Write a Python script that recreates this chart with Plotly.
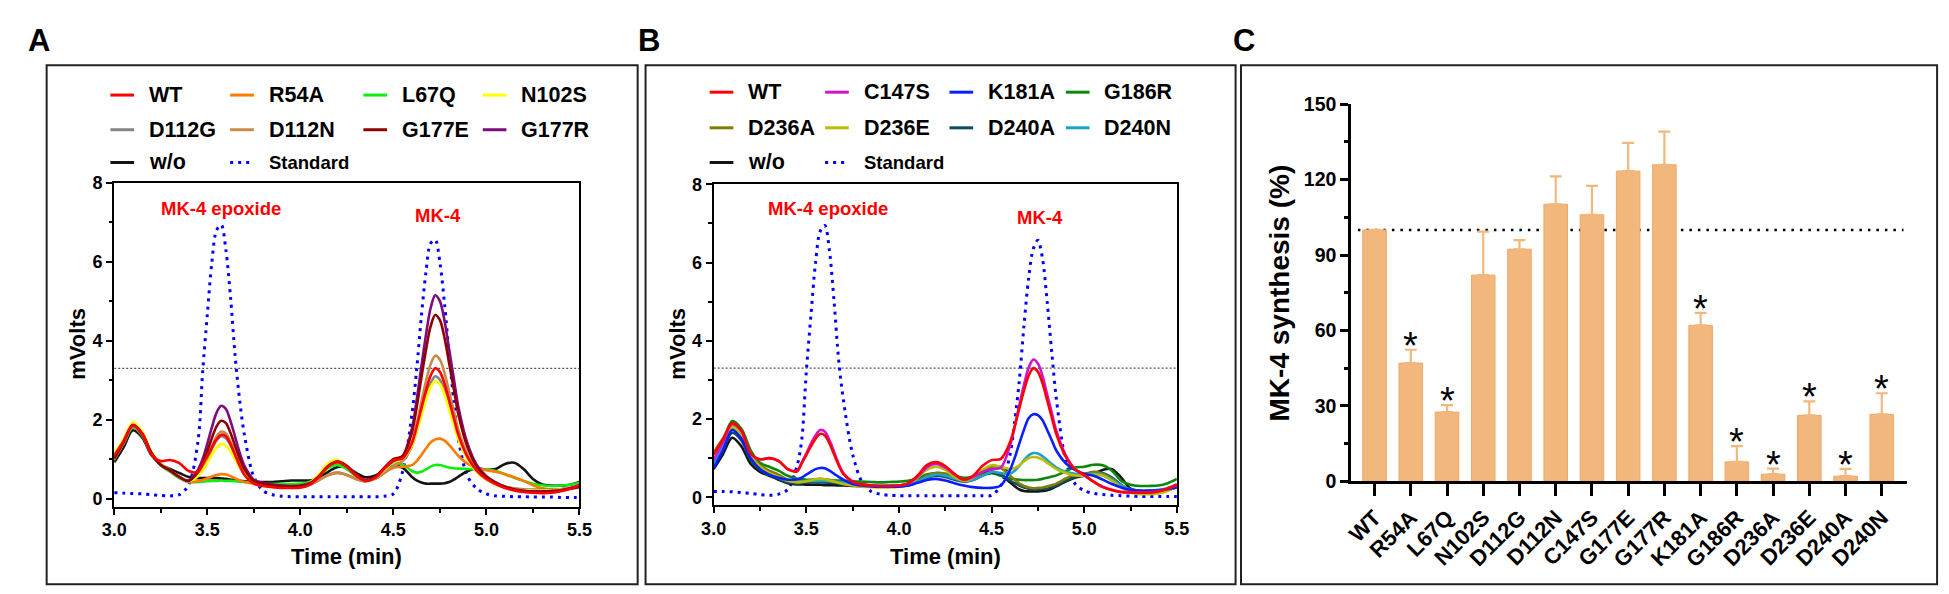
import plotly.graph_objects as go

W, H = 1949, 594
FONT = 'Liberation Sans, Arial, sans-serif'

# retention time grid (min), denser around the two peaks
TIME = [3.00, 3.05, 3.10, 3.15, 3.20, 3.25, 3.30, 3.35, 3.40, 3.45,
        3.475, 3.50, 3.525, 3.55, 3.575, 3.60, 3.625, 3.65, 3.675, 3.70,
        3.75, 3.80, 3.85, 3.90, 3.95, 4.00, 4.05, 4.10, 4.15, 4.20,
        4.25, 4.30, 4.35, 4.40, 4.45, 4.50, 4.55, 4.60, 4.625, 4.65,
        4.675, 4.70, 4.725, 4.75, 4.775, 4.80, 4.825, 4.85, 4.90, 4.95,
        5.00, 5.05, 5.10, 5.15, 5.20, 5.25, 5.30, 5.35, 5.40, 5.45, 5.50]

# ---- panel A chromatograms (mVolts) ----
A_WT = [1.10, 1.45, 1.86, 1.65, 1.12, 0.95, 0.98, 0.90, 0.70, 0.68,
        0.87, 1.08, 1.30, 1.50, 1.62, 1.58, 1.38, 1.10, 0.82, 0.60,
        0.38, 0.32, 0.29, 0.27, 0.27, 0.28, 0.35, 0.55, 0.82, 0.92,
        0.80, 0.58, 0.45, 0.52, 0.75, 0.97, 1.02, 1.41, 1.81, 2.28,
        2.73, 3.11, 3.30, 3.21, 2.91, 2.48, 2.04, 1.61, 1.04, 0.70,
        0.50, 0.37, 0.27, 0.21, 0.17, 0.15, 0.14, 0.15, 0.19, 0.25, 0.35]
A_R54A = [1.00, 1.40, 1.83, 1.62, 1.15, 0.85, 0.70, 0.54, 0.43, 0.44,
          0.47, 0.51, 0.56, 0.60, 0.62, 0.61, 0.57, 0.51, 0.46, 0.42,
          0.38, 0.34, 0.32, 0.31, 0.30, 0.31, 0.36, 0.47, 0.60, 0.65,
          0.60, 0.50, 0.44, 0.50, 0.65, 0.78, 0.81, 0.85, 0.95, 1.10,
          1.27, 1.42, 1.50, 1.52, 1.47, 1.36, 1.22, 1.08, 0.88, 0.77,
          0.72, 0.68, 0.62, 0.54, 0.45, 0.34, 0.26, 0.23, 0.22, 0.25, 0.30]
A_L67Q = [1.05, 1.40, 1.80, 1.60, 1.13, 0.84, 0.68, 0.52, 0.42, 0.42,
          0.43, 0.44, 0.45, 0.45, 0.46, 0.45, 0.45, 0.44, 0.43, 0.42,
          0.40, 0.38, 0.37, 0.37, 0.37, 0.38, 0.42, 0.56, 0.78, 0.85,
          0.75, 0.57, 0.46, 0.52, 0.72, 0.90, 0.86, 0.70, 0.66, 0.68,
          0.74, 0.81, 0.85, 0.85, 0.82, 0.79, 0.77, 0.76, 0.75, 0.74,
          0.73, 0.70, 0.62, 0.53, 0.45, 0.38, 0.34, 0.32, 0.33, 0.35, 0.40]
A_N102S = [1.15, 1.50, 1.93, 1.70, 1.18, 0.88, 0.72, 0.55, 0.45, 0.57,
           0.71, 0.90, 1.11, 1.29, 1.38, 1.34, 1.19, 0.99, 0.78, 0.62,
           0.38, 0.33, 0.31, 0.30, 0.30, 0.31, 0.40, 0.62, 0.90, 0.98,
           0.84, 0.60, 0.46, 0.52, 0.72, 0.92, 1.01, 1.35, 1.69, 2.09,
           2.49, 2.82, 2.98, 2.90, 2.63, 2.25, 1.87, 1.49, 0.98, 0.67,
           0.49, 0.36, 0.29, 0.24, 0.21, 0.20, 0.20, 0.21, 0.23, 0.27, 0.32]
A_D112G = [1.00, 1.40, 1.83, 1.62, 1.15, 0.85, 0.70, 0.54, 0.43, 0.61,
           0.77, 1.00, 1.26, 1.48, 1.58, 1.53, 1.35, 1.10, 0.86, 0.66,
           0.40, 0.35, 0.32, 0.31, 0.30, 0.31, 0.36, 0.47, 0.60, 0.66,
           0.60, 0.50, 0.44, 0.50, 0.65, 0.82, 0.95, 1.33, 1.70, 2.14,
           2.57, 2.92, 3.10, 3.01, 2.74, 2.34, 1.94, 1.54, 1.01, 0.68,
           0.49, 0.37, 0.30, 0.26, 0.24, 0.23, 0.23, 0.23, 0.24, 0.26, 0.28]
A_D112N = [1.00, 1.42, 1.85, 1.63, 1.15, 0.85, 0.70, 0.54, 0.43, 0.62,
           0.80, 1.06, 1.34, 1.58, 1.70, 1.65, 1.44, 1.18, 0.91, 0.69,
           0.41, 0.35, 0.32, 0.31, 0.30, 0.31, 0.36, 0.47, 0.60, 0.66,
           0.60, 0.50, 0.44, 0.50, 0.65, 0.82, 0.97, 1.43, 1.89, 2.44,
           2.97, 3.40, 3.62, 3.52, 3.18, 2.70, 2.22, 1.73, 1.10, 0.72,
           0.51, 0.38, 0.30, 0.25, 0.22, 0.21, 0.21, 0.22, 0.24, 0.27, 0.30]
A_G177E = [1.02, 1.43, 1.86, 1.64, 1.16, 0.86, 0.71, 0.55, 0.45, 0.67,
           0.89, 1.20, 1.54, 1.83, 1.97, 1.91, 1.66, 1.33, 1.01, 0.75,
           0.44, 0.38, 0.34, 0.32, 0.31, 0.32, 0.38, 0.56, 0.82, 0.93,
           0.82, 0.60, 0.46, 0.54, 0.78, 1.00, 1.08, 1.68, 2.31, 3.05,
           3.76, 4.36, 4.65, 4.52, 4.07, 3.42, 2.77, 2.12, 1.28, 0.80,
           0.55, 0.40, 0.30, 0.24, 0.20, 0.18, 0.18, 0.19, 0.21, 0.25, 0.30]
A_G177R = [1.05, 1.45, 1.87, 1.65, 1.15, 0.85, 0.72, 0.55, 0.46, 0.73,
           1.00, 1.39, 1.81, 2.18, 2.35, 2.27, 1.96, 1.56, 1.15, 0.83,
           0.48, 0.40, 0.36, 0.33, 0.32, 0.33, 0.39, 0.57, 0.83, 0.94,
           0.83, 0.61, 0.47, 0.54, 0.76, 0.95, 1.08, 1.78, 2.49, 3.33,
           4.14, 4.82, 5.15, 5.00, 4.50, 3.77, 3.04, 2.31, 1.37, 0.84,
           0.57, 0.41, 0.30, 0.22, 0.19, 0.18, 0.18, 0.19, 0.22, 0.27, 0.33]
A_WO = [0.92, 1.30, 1.73, 1.55, 1.10, 0.87, 0.75, 0.65, 0.55, 0.52,
        0.52, 0.52, 0.52, 0.52, 0.51, 0.50, 0.48, 0.47, 0.45, 0.44,
        0.43, 0.42, 0.42, 0.44, 0.46, 0.46, 0.46, 0.52, 0.68, 0.80,
        0.80, 0.65, 0.54, 0.58, 0.70, 0.83, 0.78, 0.55, 0.46, 0.41,
        0.38, 0.38, 0.38, 0.38, 0.39, 0.42, 0.48, 0.56, 0.70, 0.77,
        0.73, 0.75, 0.88, 0.91, 0.75, 0.50, 0.36, 0.33, 0.33, 0.35, 0.42]
A_STD = [0.15, 0.14, 0.13, 0.12, 0.10, 0.08, 0.07, 0.10, 0.35, 1.45,
         3.20, 4.65, 6.00, 6.80, 6.93, 6.30, 5.10, 3.60, 2.45, 1.60,
         0.55, 0.20, 0.10, 0.06, 0.05, 0.05, 0.05, 0.05, 0.05, 0.05,
         0.05, 0.05, 0.05, 0.05, 0.06, 0.12, 0.69, 2.15, 3.26, 4.59,
         5.73, 6.46, 6.55, 5.98, 4.93, 3.65, 2.45, 1.48, 0.55, 0.25,
         0.12, 0.07, 0.06, 0.05, 0.05, 0.04, 0.04, 0.04, 0.03, 0.03, 0.03]

# ---- panel B chromatograms (mVolts) ----
B_WT = [1.10, 1.48, 1.90, 1.70, 1.12, 0.97, 1.00, 0.93, 0.72, 0.66,
        0.87, 1.08, 1.30, 1.50, 1.62, 1.58, 1.38, 1.10, 0.82, 0.60,
        0.40, 0.33, 0.30, 0.29, 0.29, 0.30, 0.36, 0.55, 0.82, 0.90,
        0.80, 0.60, 0.45, 0.55, 0.80, 0.95, 0.98, 1.41, 1.81, 2.28,
        2.73, 3.11, 3.30, 3.21, 2.91, 2.48, 2.04, 1.61, 1.04, 0.72,
        0.57, 0.40, 0.26, 0.18, 0.13, 0.12, 0.12, 0.12, 0.15, 0.22, 0.33]
B_C147S = [0.95, 1.40, 1.88, 1.70, 1.12, 0.97, 1.00, 0.93, 0.72, 0.68,
           0.88, 1.12, 1.37, 1.58, 1.72, 1.68, 1.46, 1.16, 0.85, 0.62,
           0.40, 0.33, 0.30, 0.29, 0.29, 0.30, 0.35, 0.52, 0.76, 0.85,
           0.76, 0.58, 0.45, 0.52, 0.65, 0.72, 0.76, 1.33, 1.82, 2.36,
           2.88, 3.31, 3.52, 3.42, 3.10, 2.63, 2.16, 1.69, 1.08, 0.72,
           0.56, 0.40, 0.27, 0.19, 0.14, 0.13, 0.13, 0.13, 0.16, 0.22, 0.32]
B_K181A = [0.75, 1.20, 1.72, 1.50, 1.00, 0.72, 0.58, 0.50, 0.45, 0.46,
           0.50, 0.58, 0.65, 0.72, 0.75, 0.74, 0.68, 0.60, 0.52, 0.45,
           0.34, 0.30, 0.28, 0.27, 0.27, 0.27, 0.30, 0.37, 0.44, 0.47,
           0.43, 0.36, 0.30, 0.26, 0.24, 0.24, 0.30, 0.70, 1.01, 1.38,
           1.73, 2.02, 2.12, 2.10, 1.97, 1.72, 1.46, 1.19, 0.87, 0.70,
           0.60, 0.55, 0.45, 0.34, 0.25, 0.19, 0.17, 0.17, 0.18, 0.21, 0.26]
B_G186R = [0.90, 1.40, 1.95, 1.75, 1.20, 0.88, 0.78, 0.68, 0.55, 0.47,
           0.46, 0.45, 0.45, 0.45, 0.45, 0.44, 0.44, 0.43, 0.43, 0.42,
           0.41, 0.40, 0.39, 0.38, 0.39, 0.40, 0.42, 0.48, 0.58, 0.62,
           0.60, 0.55, 0.50, 0.52, 0.58, 0.62, 0.55, 0.48, 0.46, 0.45,
           0.44, 0.44, 0.44, 0.45, 0.47, 0.50, 0.53, 0.56, 0.67, 0.76,
           0.78, 0.83, 0.82, 0.68, 0.42, 0.32, 0.29, 0.29, 0.30, 0.36, 0.47]
B_D236A = [1.15, 1.50, 1.85, 1.62, 1.10, 0.82, 0.68, 0.58, 0.45, 0.40,
           0.40, 0.42, 0.44, 0.46, 0.47, 0.46, 0.44, 0.41, 0.39, 0.37,
           0.33, 0.30, 0.28, 0.27, 0.27, 0.28, 0.32, 0.40, 0.55, 0.62,
           0.60, 0.50, 0.43, 0.48, 0.65, 0.78, 0.75, 0.55, 0.45, 0.35,
           0.29, 0.25, 0.23, 0.24, 0.25, 0.28, 0.31, 0.35, 0.48, 0.58,
           0.60, 0.65, 0.60, 0.48, 0.30, 0.15, 0.10, 0.10, 0.12, 0.18, 0.30]
B_D236E = [1.00, 1.40, 1.80, 1.58, 1.05, 0.78, 0.62, 0.52, 0.42, 0.38,
           0.39, 0.41, 0.43, 0.46, 0.47, 0.46, 0.43, 0.40, 0.37, 0.34,
           0.30, 0.27, 0.26, 0.25, 0.25, 0.27, 0.33, 0.50, 0.70, 0.78,
           0.70, 0.52, 0.42, 0.50, 0.70, 0.82, 0.78, 0.72, 0.75, 0.82,
           0.92, 1.00, 1.03, 1.02, 0.96, 0.88, 0.80, 0.72, 0.62, 0.56,
           0.55, 0.58, 0.55, 0.42, 0.25, 0.12, 0.08, 0.08, 0.10, 0.16, 0.27]
B_D240A = [0.80, 1.20, 1.65, 1.45, 0.95, 0.70, 0.56, 0.47, 0.38, 0.35,
           0.36, 0.37, 0.38, 0.38, 0.38, 0.38, 0.37, 0.36, 0.35, 0.33,
           0.31, 0.30, 0.29, 0.28, 0.29, 0.30, 0.33, 0.40, 0.50, 0.55,
           0.52, 0.45, 0.40, 0.44, 0.55, 0.62, 0.58, 0.42, 0.36, 0.30,
           0.25, 0.22, 0.20, 0.20, 0.21, 0.22, 0.26, 0.30, 0.42, 0.52,
           0.58, 0.64, 0.62, 0.50, 0.32, 0.18, 0.14, 0.14, 0.16, 0.20, 0.28]
B_D240N = [0.85, 1.30, 1.78, 1.55, 1.05, 0.75, 0.60, 0.50, 0.42, 0.40,
           0.40, 0.41, 0.42, 0.42, 0.42, 0.42, 0.41, 0.40, 0.39, 0.38,
           0.34, 0.32, 0.31, 0.30, 0.30, 0.30, 0.33, 0.40, 0.52, 0.58,
           0.55, 0.48, 0.42, 0.45, 0.55, 0.65, 0.62, 0.60, 0.68, 0.80,
           0.95, 1.07, 1.13, 1.12, 1.05, 0.95, 0.85, 0.76, 0.65, 0.60,
           0.58, 0.60, 0.57, 0.45, 0.30, 0.20, 0.17, 0.17, 0.19, 0.24, 0.32]
B_WO = [0.72, 1.10, 1.52, 1.30, 0.85, 0.65, 0.55, 0.45, 0.36, 0.33,
        0.33, 0.32, 0.32, 0.32, 0.32, 0.31, 0.31, 0.31, 0.30, 0.30,
        0.29, 0.28, 0.28, 0.28, 0.28, 0.29, 0.30, 0.38, 0.50, 0.58,
        0.58, 0.50, 0.45, 0.50, 0.60, 0.66, 0.58, 0.38, 0.28, 0.20,
        0.16, 0.15, 0.15, 0.15, 0.16, 0.18, 0.22, 0.28, 0.40, 0.50,
        0.55, 0.60, 0.70, 0.72, 0.50, 0.22, 0.16, 0.15, 0.16, 0.19, 0.26]
B_STD = [0.15, 0.15, 0.14, 0.12, 0.10, 0.07, 0.05, 0.08, 0.20, 0.80,
         1.45, 3.20, 4.65, 6.00, 6.80, 6.95, 6.30, 5.00, 3.50, 2.50,
         1.10, 0.40, 0.15, 0.08, 0.05, 0.04, 0.04, 0.04, 0.04, 0.04,
         0.04, 0.04, 0.04, 0.04, 0.04, 0.05, 0.30, 1.10, 1.95, 3.00,
         4.40, 5.60, 6.35, 6.57, 6.10, 5.00, 3.70, 2.50, 0.95, 0.35,
         0.17, 0.10, 0.07, 0.05, 0.04, 0.03, 0.02, 0.02, 0.02, 0.02, 0.02]

# ---- panel C: MK-4 synthesis (% of WT) ----
C_LABELS = ['WT', 'R54A', 'L67Q', 'N102S', 'D112G', 'D112N', 'C147S', 'G177E',
            'G177R', 'K181A', 'G186R', 'D236A', 'D236E', 'D240A', 'D240N']
C_VALUES = [100, 47.0, 27.5, 82.0, 92.3, 110.2, 106.0, 123.4,
            125.9, 62.0, 7.7, 2.8, 26.2, 2.0, 26.6]
C_ERR = [None, 5.3, 2.8, 17.3, 3.6, 11.1, 11.5, 11.2,
         13.2, 5.0, 6.3, 2.2, 5.6, 2.9, 8.4]
C_STAR = [False, True, True, False, False, False, False, False,
          False, True, True, True, True, True, True]

A_DATA = {'WT': A_WT, 'R54A': A_R54A, 'L67Q': A_L67Q, 'N102S': A_N102S,
          'D112G': A_D112G, 'D112N': A_D112N, 'G177E': A_G177E, 'G177R': A_G177R,
          'w/o': A_WO, 'Standard': A_STD}
B_DATA = {'WT': B_WT, 'C147S': B_C147S, 'K181A': B_K181A, 'G186R': B_G186R,
          'D236A': B_D236A, 'D236E': B_D236E, 'D240A': B_D240A, 'D240N': B_D240N,
          'w/o': B_WO, 'Standard': B_STD}

COLORS = {
    'WT': '#FF0000', 'R54A': '#FF7A00', 'L67Q': '#10EE10', 'N102S': '#FFFF00',
    'D112G': '#858585', 'D112N': '#C98A47', 'G177E': '#8E0000', 'G177R': '#7D0C7D',
    'w/o': '#141414', 'Standard': '#0000FF',
    'C147S': '#CC16CC', 'K181A': '#0A1EFF', 'G186R': '#0C860C', 'D236A': '#7E7E00',
    'D236E': '#BDBD00', 'D240A': '#0E4B5E', 'D240N': '#1CA2C8',
}
BAR_COLOR = '#F2B77C'

# legend grids (rows of names) for the two chromatogram panels
A_LEGEND = [['WT', 'R54A', 'L67Q', 'N102S'],
            ['D112G', 'D112N', 'G177E', 'G177R'],
            ['w/o', 'Standard']]
B_LEGEND = [['WT', 'C147S', 'K181A', 'G186R'],
            ['D236A', 'D236E', 'D240A', 'D240N'],
            ['w/o', 'Standard']]
A_ORDER = ['Standard', 'w/o', 'L67Q', 'R54A', 'D112G', 'D112N', 'N102S', 'G177R', 'G177E', 'WT']
B_ORDER = ['Standard', 'w/o', 'G186R', 'D240A', 'D236A', 'D240N', 'D236E', 'K181A', 'C147S', 'WT']


def px(x):
    return x / W


def py(y):
    return 1 - y / H


def bold(size, color='black'):
    return dict(family=FONT, size=size, color=color, weight='bold')


fig = go.Figure()


def add_chrom(data, order, xa, ya):
    for name in order:
        std = name == 'Standard'
        fig.add_trace(go.Scatter(
            x=TIME, y=data[name], mode='lines', xaxis=xa, yaxis=ya,
            line=dict(color=COLORS[name], width=3 if std else 2.6, shape='spline',
                      smoothing=0.9, dash='3px,5px' if std else 'solid'),
            showlegend=False, hoverinfo='skip'))


add_chrom(A_DATA, A_ORDER, 'x', 'y')
add_chrom(B_DATA, B_ORDER, 'x2', 'y2')

fig.add_trace(go.Bar(
    x=C_LABELS, y=C_VALUES, width=0.65, xaxis='x3', yaxis='y3',
    marker=dict(color=BAR_COLOR, line=dict(color='#EDA866', width=1)),
    error_y=dict(type='data', array=C_ERR, symmetric=False, arrayminus=[0] * len(C_ERR),
                 color=BAR_COLOR, thickness=2.2, width=6),
    showlegend=False, hoverinfo='skip'))


def chrom_axes(xdom, ydom, anchor_x, anchor_y):
    xa = dict(domain=xdom, anchor=anchor_y, range=[3.0, 5.5], tick0=3.0, dtick=0.5,
              tickformat='.1f', ticks='outside', ticklen=6, tickwidth=2, tickcolor='black',
              showline=True, linewidth=2, linecolor='black', mirror=True,
              showgrid=False, zeroline=False, tickfont=bold(18),
              minor=dict(dtick=0.25, ticks='outside', ticklen=4, tickwidth=2, tickcolor='black'))
    ya = dict(domain=ydom, anchor=anchor_x, range=[-0.2, 8], tick0=0, dtick=2,
              ticks='outside', ticklen=6, tickwidth=2, tickcolor='black',
              showline=True, linewidth=2, linecolor='black', mirror=True,
              showgrid=False, zeroline=False, tickfont=bold(18),
              minor=dict(dtick=1, ticks='outside', ticklen=3.5, tickwidth=2, tickcolor='black'))
    return xa, ya


xa1, ya1 = chrom_axes([px(94.5), px(566)], [py(506.3), py(170)], 'x', 'y')
xa2, ya2 = chrom_axes([px(702), px(1171.5)], [py(504.8), py(171.7)], 'x2', 'y2')

xa3 = dict(domain=[px(1348), px(1912)], anchor='y3', type='category',
           range=[-0.65, 14.71], ticks='outside', ticklen=12, tickwidth=2.5,
           tickcolor='black', showline=True, linewidth=2.5, linecolor='black',
           tickangle=-45, tickfont=bold(22), showgrid=False, zeroline=False)
ya3 = dict(domain=[py(480), py(88.5)], anchor='x3', range=[0, 150], dtick=30,
           ticks='outside', ticklen=8, tickwidth=2.5, tickcolor='black',
           showline=True, linewidth=2.5, linecolor='black', showgrid=False,
           zeroline=False, tickfont=bold(19.5),
           minor=dict(dtick=15, ticks='outside', ticklen=4, tickwidth=2.5, tickcolor='black'))

shapes = []
annotations = []

# panel frames
for x0, x1 in [(26, 625), (633, 1231), (1236.5, 1942)]:
    shapes.append(dict(type='rect', xref='paper', yref='paper', x0=px(x0), x1=px(x1),
                       y0=py(587), y1=py(48), line=dict(color='#222222', width=2)))

# reference lines
for xr, yr in [('x', 'y'), ('x2', 'y2')]:
    shapes.append(dict(type='line', xref=xr, yref=yr, x0=3.0, x1=5.5, y0=3.3, y1=3.3,
                       layer='below', line=dict(color='#555555', width=1.2, dash='2px,2px')))
shapes.append(dict(type='line', xref='x3', yref='y3', x0=-0.46, x1=14.6, y0=100, y1=100,
                   layer='below', line=dict(color='black', width=2.5, dash='2.5px,6px')))


def add_legend(grid, col_x, row_y):
    for r, row in enumerate(grid):
        for c, name in enumerate(row):
            x0, y0 = col_x[c], row_y[r]
            std = name == 'Standard'
            shapes.append(dict(type='line', xref='paper', yref='paper',
                               x0=px(x0), x1=px(x0 + 24), y0=py(y0), y1=py(y0),
                               line=dict(color=COLORS[name], width=3,
                                         dash='3px,5px' if std else 'solid')))
            annotations.append(dict(xref='paper', yref='paper', x=px(x0 + 37), y=py(y0),
                                    xanchor='left', yanchor='middle', showarrow=False,
                                    text=name, font=bold(18.5 if std else 21.5)))


add_legend(A_LEGEND, [90.6, 212, 347, 468], [79, 115, 149])
add_legend(B_LEGEND, [698, 815, 941, 1059], [76, 113, 149])

# peak labels
for xr, yr, pos in [('x', 'y', [(3.573, 7.35), (4.739, 7.16)]),
                    ('x2', 'y2', [(3.616, 7.38), (4.764, 7.14)])]:
    for (xx, yy), txt in zip(pos, ['MK-4 epoxide', 'MK-4']):
        annotations.append(dict(xref=xr, yref=yr, x=xx, y=yy, text=txt, showarrow=False,
                                xanchor='center', yanchor='middle', font=bold(18.5, '#FF0000')))

# significance stars
for lab, v, e, s in zip(C_LABELS, C_VALUES, C_ERR, C_STAR):
    if s:
        annotations.append(dict(xref='x3', yref='y3', x=lab, y=v + (e or 0), text='*',
                                showarrow=False, yanchor='middle', yshift=4,
                                font=dict(family=FONT, size=38, color='black')))

# axis titles and panel letters
for x, y, txt, ang, size in [(57, 337, 'mVolts', -90, 22), (665, 337, 'mVolts', -90, 22),
                             (330.3, 558, 'Time (min)', 0, 22), (937, 558, 'Time (min)', 0, 22),
                             (1276, 284, 'MK-4 synthesis (%)', -90, 28),
                             (18, 22.5, 'A', 0, 31), (636, 22.5, 'B', 0, 31), (1240, 22.5, 'C', 0, 31)]:
    annotations.append(dict(xref='paper', yref='paper', x=px(x), y=py(y), text=txt,
                            textangle=ang, showarrow=False, xanchor='center',
                            yanchor='middle', font=bold(size)))

fig.update_layout(
    width=W, height=H, margin=dict(l=0, r=0, t=0, b=0),
    paper_bgcolor='white', plot_bgcolor='white',
    font=dict(family=FONT, color='black'),
    xaxis=xa1, yaxis=ya1, xaxis2=xa2, yaxis2=ya2, xaxis3=xa3, yaxis3=ya3,
    shapes=shapes, annotations=annotations, bargap=0.35,
)

fig.write_html("out.html")
